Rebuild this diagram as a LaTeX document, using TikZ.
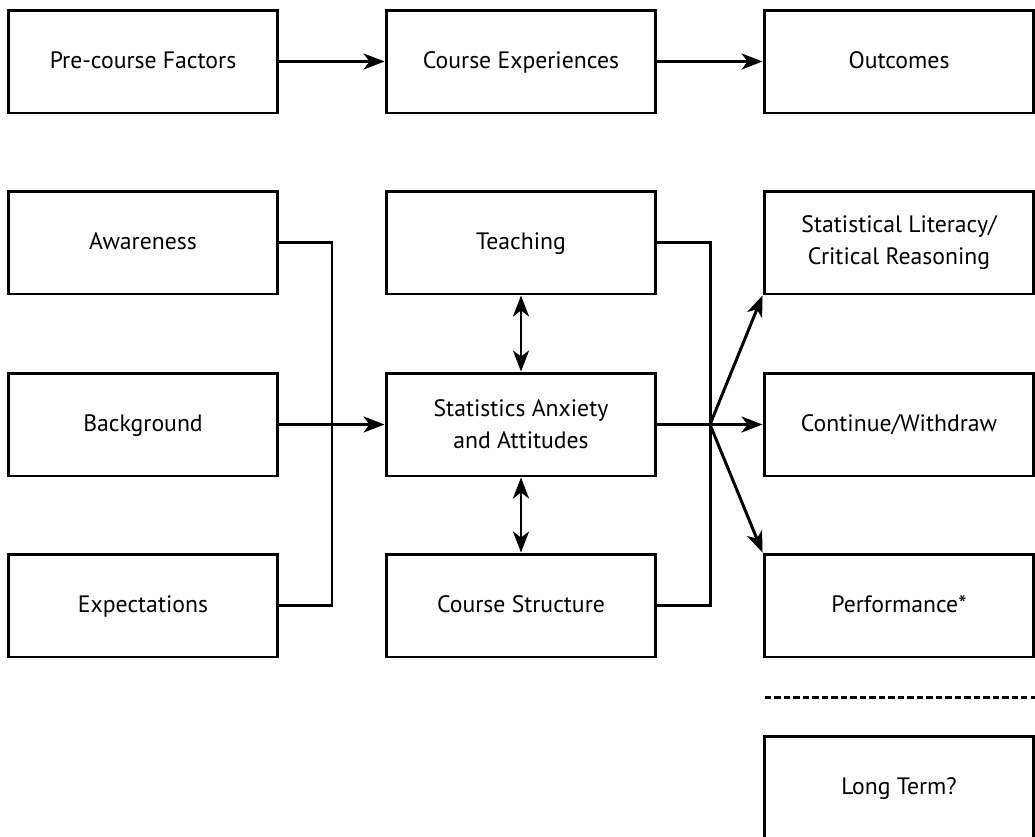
\documentclass[tikz,border=0pt]{standalone}
\usepackage{fontspec}
\setmainfont{PT Sans}
\usetikzlibrary{arrows.meta}
\tikzset{stage/.style={draw,line width=1.7pt,minimum width=5.4cm,minimum height=2.06cm,
  align=center,font=\fontsize{13.5}{18}\selectfont},
  oneline/.style={text height=1.8ex,text depth=.3ex},
  link/.style={line width=1.7pt,-{Stealth[length=0.42cm,width=0.32cm,inset=0.12cm]}},
  twoway/.style={line width=1.7pt,{Stealth[length=0.42cm,width=0.32cm,inset=0.12cm]}-{Stealth[length=0.42cm,width=0.32cm,inset=0.12cm]}},
  wire/.style={line width=1.7pt}}
\begin{document}
\begin{tikzpicture}[x=0.02cm,y=-0.02cm]
\useasboundingbox(0,0)rectangle(1035,836);
\clip(0,0)rectangle(1035,836);
% headings
\node[stage,oneline](pre)at(143,61.5){Pre-course Factors};
\node[stage,oneline](exper)at(521,61.5){Course Experiences};
\node[stage,oneline](outc)at(899,61.5){Outcomes};
\draw[link](pre)--(exper);
\draw[link](exper)--(outc);
% pre-course factors
\node[stage,oneline](aware)at(143,242.5){Awareness};
\node[stage,oneline](backgr)at(143,424.5){Background};
\node[stage,oneline](expect)at(143,605.5){Expectations};
% course experiences
\node[stage,oneline](teach)at(521,242.5){Teaching};
\node[stage](anx)at(521,424.5){Statistics Anxiety\\and Attitudes};
\node[stage,oneline](struct)at(521,605.5){Course Structure};
% outcomes
\node[stage](lit)at(899,242.5){Statistical Literacy/\\Critical Reasoning};
\node[stage,oneline](cont)at(899,424.5){Continue/Withdraw};
\node[stage,oneline](perf)at(899,605.5){Performance*};
\node[stage,oneline](longt)at(899,787.5){Long Term?};
\coordinate(ljoin)at(332,424.5);
\coordinate(rjoin)at(710,424.5);
\draw[wire](aware.east)-|(ljoin)|-(expect.east);
\draw[link](backgr)--(anx);
\draw[twoway](teach)--(anx);
\draw[twoway](anx)--(struct);
\draw[wire](teach.east)-|(rjoin)|-(struct.east);
\draw[wire](anx.east)--(rjoin);
\draw[link](rjoin)--(lit.south west);
\draw[link](rjoin)--(cont);
\draw[link](rjoin)--(perf.north west);
\draw[wire,dash pattern=on 3.6pt off 1.8pt](765,697)--(1035,697);
\end{tikzpicture}
\end{document}
